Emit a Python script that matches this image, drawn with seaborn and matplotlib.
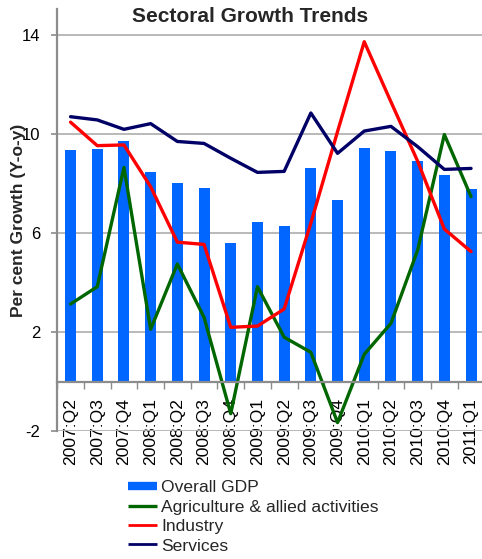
import numpy as np
import pandas as pd
import matplotlib
matplotlib.use("Agg")
import matplotlib.pyplot as plt
from matplotlib.lines import Line2D
import seaborn as sns

quarters = ["2007:Q2", "2007:Q3", "2007:Q4", "2008:Q1", "2008:Q2", "2008:Q3",
            "2008:Q4", "2009:Q1", "2009:Q2", "2009:Q3", "2009:Q4", "2010:Q1",
            "2010:Q2", "2010:Q3", "2010:Q4", "2011:Q1"]
gdp = [9.35, 9.39, 9.72, 8.46, 8.02, 7.82, 5.60, 6.45, 6.30, 8.63, 7.33, 9.43,
       9.31, 8.91, 8.34, 7.78]
agri = [3.13, 3.83, 8.65, 2.11, 4.75, 2.59, -1.30, 3.83, 1.79, 1.18, -1.66, 1.10,
        2.35, 5.31, 9.98, 7.47]
industry = [10.48, 9.53, 9.56, 7.87, 5.63, 5.54, 2.19, 2.24, 2.93, 6.40, 10.10,
            13.73, 11.30, 8.90, 6.16, 5.25]
services = [10.70, 10.57, 10.19, 10.42, 9.70, 9.62, 9.02, 8.45, 8.49, 10.85, 9.22,
            10.12, 10.31, 9.49, 8.57, 8.61]
yticks = [-2, 2, 6, 10, 14]
labels = ["Overall GDP", "Agriculture & allied activities", "Industry", "Services"]

C_GDP = "#0066FF"
C_AGR = "#006600"
C_IND = "#FF0000"
C_SER = "#000066"
GRID = "#b3b3b3"
SPINE = "#8c8c8c"

sns.set_style("white")
plt.rcParams["font.family"] = ["Liberation Sans", "DejaVu Sans"]

df = pd.DataFrame({"quarter": quarters, "pos": np.arange(len(quarters)),
                   "gdp": gdp, "agri": agri, "industry": industry,
                   "services": services})

fig = plt.figure(figsize=(4.82, 5.59), dpi=100)
ax = fig.add_axes([57.2 / 482, 128 / 559, 427.2 / 482, 421.7 / 559])

sns.barplot(data=df, x="quarter", y="gdp", color=C_GDP, saturation=1,
            width=0.41, linewidth=0, ax=ax)
sns.lineplot(data=df, x="pos", y="agri", color=C_AGR, linewidth=2.4, ax=ax,
             legend=False)
sns.lineplot(data=df, x="pos", y="industry", color=C_IND, linewidth=2.4, ax=ax,
             legend=False)
sns.lineplot(data=df, x="pos", y="services", color=C_SER, linewidth=2.4, ax=ax,
             legend=False)

ax.set_xlim(-0.5, len(quarters) - 0.5)
ax.set_ylim(-2, 15.04)
ax.set_xlabel("")
ax.set_ylabel("")

ax.set_axisbelow(True)
ax.grid(axis="y", color=GRID, linewidth=1.3)
ax.grid(axis="x", visible=False)

for s in ["top", "right"]:
    ax.spines[s].set_visible(False)
ax.spines["bottom"].set_position(("data", 0))
ax.spines["bottom"].set_color(SPINE)
ax.spines["bottom"].set_linewidth(1.6)
ax.spines["left"].set_color(SPINE)
ax.spines["left"].set_linewidth(1.6)

ax.set_yticks(yticks)
ax.set_yticklabels([str(v) for v in yticks])
ax.set_xticks(np.arange(len(quarters)))
ax.set_xticklabels(quarters)
ax.set_xticks(np.arange(len(quarters) + 1) - 0.5, minor=True)

ax.tick_params(axis="x", which="major", length=0, pad=12, labelcolor="black",
               labelrotation=90, labelsize=12.6)
ax.tick_params(axis="x", which="minor", length=5, width=1, color=SPINE,
               direction="out", bottom=True)
ax.tick_params(axis="y", which="major", left=True, length=4.3, width=1.2,
               color=SPINE, pad=8, labelcolor="black", labelsize=12)

fig.text(0.518, 1 - 16.7 / 559, "Sectoral Growth Trends", ha="center",
         va="center", fontsize=15, fontweight="bold")
fig.text(19 / 482, 1 - 220 / 559, "Per cent Growth (Y-o-y)", rotation=90,
         ha="center", va="center", fontsize=12.5, fontweight="bold")

handles = [
    Line2D([0], [0], color=C_GDP, linewidth=6, solid_capstyle="butt"),
    Line2D([0], [0], color=C_AGR, linewidth=2.4, solid_capstyle="butt"),
    Line2D([0], [0], color=C_IND, linewidth=2, solid_capstyle="butt"),
    Line2D([0], [0], color=C_SER, linewidth=2, solid_capstyle="butt"),
]
fig.legend(handles, labels, loc="upper left",
           bbox_to_anchor=(128 / 482, 1 - 480 / 559), frameon=False,
           fontsize=12.6, borderpad=0, borderaxespad=0, handlelength=1.66,
           handletextpad=0.23, labelspacing=0.24)

fig.savefig("out.png", dpi=100)
